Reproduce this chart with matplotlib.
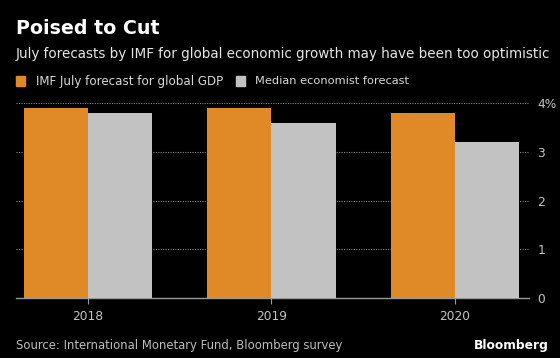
import matplotlib
matplotlib.use("Agg")
import matplotlib.pyplot as plt
import numpy as np

years = ["2018", "2019", "2020"]
imf_july = [3.9, 3.9, 3.8]
median_economist = [3.8, 3.6, 3.2]
y_ticks = [0, 1, 2, 3, 4]
y_tick_labels = ["0", "1", "2", "3", "4%"]

ORANGE = "#df8a26"
GRAY = "#c2c2c2"
BG = "#000000"

W, H = 560, 358
fig = plt.figure(figsize=(W / 100, H / 100), dpi=100, facecolor=BG)
renderer = fig.canvas.get_renderer()

# axes placed in pixel terms
left, right, bottom, top = 16, 529, 298, 103
ax = fig.add_axes([left / W, 1 - bottom / H, (right - left) / W, (bottom - top) / H])
ax.set_facecolor(BG)

x = np.arange(len(years))
w = 0.349
ax.bar(x - w, imf_july, width=w, align="edge", color=ORANGE, zorder=3)
ax.bar(x, median_economist, width=w, align="edge", color=GRAY, zorder=3)

ax.set_xlim(-0.392, 2.403)
ax.set_ylim(0, 4)

for s in ["top", "left", "right"]:
    ax.spines[s].set_visible(False)
ax.spines["bottom"].set_color("#9a9a9a")
ax.spines["bottom"].set_linewidth(1.0)

ax.set_xticks(x)
ax.set_xticklabels(years)
ax.tick_params(axis="x", colors="#9a9a9a", labelcolor="#c4c4c4", length=4,
               width=0.8, labelsize=8.8, pad=5)

ax.yaxis.tick_right()
ax.set_yticks(y_ticks)
ax.set_yticklabels(y_tick_labels)
ax.tick_params(axis="y", colors="#777777", labelcolor="#c4c4c4", length=0,
               labelsize=8.8, pad=6)

ax.grid(axis="y", color="#8a8a8a", linestyle=(0, (1, 1.2)), linewidth=0.8, zorder=1)
ax.yaxis.get_gridlines()[0].set_visible(False)


# shrink a text so it spans the same width as in the reference
def fit(t, width_px):
    bb = t.get_window_extent(renderer)
    t.set_fontsize(t.get_fontsize() * width_px / bb.width)
    return t


fit(fig.text(16 / W, 1 - 29 / H, "Poised to Cut", color="white", fontsize=15,
             fontweight="bold", va="center", ha="left"), 144)
fit(fig.text(16 / W, 1 - 54 / H,
             "July forecasts by IMF for global economic growth may have been too optimistic",
             color="#e6e6e6", fontsize=10, va="center", ha="left"), 534)

fig.patches.append(plt.Rectangle((16 / W, 1 - 86 / H), 9 / W, 10 / H,
                                 transform=fig.transFigure, color=ORANGE))
fit(fig.text(36 / W, 1 - 81 / H, "IMF July forecast for global GDP", color="#d8d8d8",
             fontsize=9, va="center", ha="left"), 188)
fig.patches.append(plt.Rectangle((236 / W, 1 - 86 / H), 9 / W, 10 / H,
                                 transform=fig.transFigure, color=GRAY))
fit(fig.text(255 / W, 1 - 81 / H, "Median economist forecast", color="#d8d8d8",
             fontsize=9, va="center", ha="left"), 154)

fit(fig.text(16 / W, 1 - 346 / H, "Source: International Monetary Fund, Bloomberg survey",
             color="#bdbdbd", fontsize=9, va="center", ha="left"), 325)
fit(fig.text(549 / W, 1 - 346 / H, "Bloomberg", color="white", fontsize=10,
             fontweight="bold", va="center", ha="right"), 75)

fig.savefig("out.png", dpi=100, facecolor=BG)
